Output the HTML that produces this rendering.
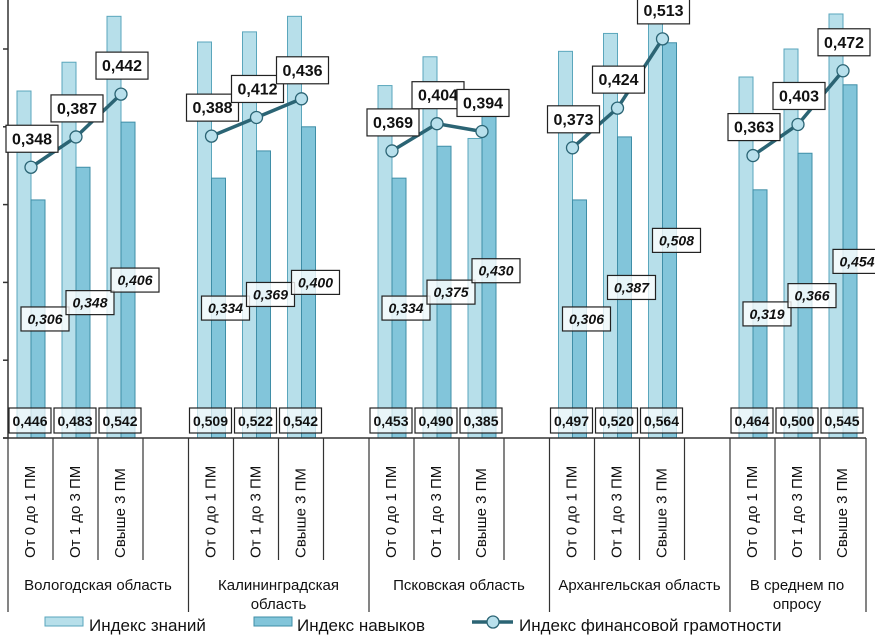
<!DOCTYPE html>
<html><head><meta charset="utf-8"><style>
body{margin:0;background:#fff;}
svg{display:block;font-family:"Liberation Sans",sans-serif;}
</style></head><body>
<svg id="chart" width="875" height="635" viewBox="0 0 875 635"></svg>
<script>
const regions=["Вологодская область","Калининградская|область","Псковская область","Архангельская область","В среднем по|опросу"];
const subcats=["От 0 до 1 ПМ","От 1 до 3 ПМ","Свыше 3 ПМ"];
const knowledge=[[0.446,0.483,0.542],[0.509,0.522,0.542],[0.453,0.490,0.385],[0.497,0.520,0.564],[0.464,0.500,0.545]];
const skills=[[0.306,0.348,0.406],[0.334,0.369,0.400],[0.334,0.375,0.430],[0.306,0.387,0.508],[0.319,0.366,0.454]];
const literacy=[[0.348,0.387,0.442],[0.388,0.412,0.436],[0.369,0.404,0.394],[0.373,0.424,0.513],[0.363,0.403,0.472]];
const yTicks=[0,0.1,0.2,0.3,0.4,0.5];

const NS="http://www.w3.org/2000/svg";
const svg=document.getElementById('chart');
const base=438, scale=778;
function y(v){return base-v*scale;}
function gx(g){return 8+g*180.5;}
function sx(g,i){return gx(g)+i*45;}
function fmt(v){return v.toFixed(3).replace('.',',');}
function mk(tag,attrs,parent){const e=document.createElementNS(NS,tag);for(const k in attrs)e.setAttribute(k,attrs[k]);(parent||svg).appendChild(e);return e;}
function txt(s,attrs,parent){const e=mk('text',attrs,parent);e.textContent=s;return e;}

const ax=mk('g',{});


mk('line',{x1:8,y1:0,x2:8,y2:base,stroke:'#333','stroke-width':1.5},ax);
yTicks.forEach(t=>{const l=mk('line',{x1:3,y1:y(t),x2:8,y2:y(t),stroke:'#333','stroke-width':1.5},ax);
});

const bars=mk('g',{});


knowledge.forEach((arr,g)=>arr.forEach((v,i)=>{
  const x=sx(g,i)+9;
  const r=mk('rect',{x:x,y:y(v),width:14,height:base-y(v),fill:'#b7dfea',stroke:'#5aa6bc','stroke-width':1},bars);
  
  
  const s=skills[g][i];
  const r2=mk('rect',{x:x+14,y:y(s),width:14,height:base-y(s),fill:'#82c5da',stroke:'#3f8ea7','stroke-width':1},bars);
  
  
}));

knowledge.forEach((arr,g)=>arr.forEach((v,i)=>{
  const cx=sx(g,i)+22;
  const b=mk('g',{});
  
  
  mk('rect',{x:cx-21,y:408,width:42,height:25,fill:'rgba(255,255,255,0.7)',stroke:'#222','stroke-width':1.2},b);
  txt(fmt(v),{x:cx,y:426,'text-anchor':'middle','font-size':14,'font-weight':'bold',fill:'#111'},b);
}));

skills.forEach((arr,g)=>arr.forEach((v,i)=>{
  const cx=sx(g,i)+37, cy=y(v/2);
  const b=mk('g',{});
  
  
  mk('rect',{x:cx-24,y:cy-12,width:48,height:24,fill:'rgba(255,255,255,0.8)',stroke:'#222','stroke-width':1.2},b);
  txt(fmt(v),{x:cx,y:cy+5,'text-anchor':'middle','font-size':14,'font-weight':'bold','font-style':'italic',fill:'#111'},b);
}));

literacy.forEach((arr,g)=>{
  const pts=arr.map((v,i)=>(sx(g,i)+23)+','+y(v)).join(' ');
  const pl=mk('polyline',{points:pts,fill:'none',stroke:'#2b6474','stroke-width':3.5});
  
  
});
literacy.forEach((arr,g)=>arr.forEach((v,i)=>{
  const c=mk('circle',{cx:sx(g,i)+23,cy:y(v),r:6,fill:'#b8e0ec',stroke:'#2b6474','stroke-width':1.3});
  
  
}));
literacy.forEach((arr,g)=>arr.forEach((v,i)=>{
  const cx=sx(g,i)+24, cy=y(v)-29;
  const b=mk('g',{});
  
  
  mk('rect',{x:cx-26,y:cy-13,width:52,height:27,fill:'#fff',stroke:'#222','stroke-width':1.2},b);
  txt(fmt(v),{x:cx,y:cy+6,'text-anchor':'middle','font-size':16,'font-weight':'bold',fill:'#111'},b);
}));

const xa=mk('g',{});


mk('line',{x1:3,y1:base,x2:866,y2:base,stroke:'#333','stroke-width':1.5},xa);
regions.forEach((r,g)=>{
  const nslots=g===regions.length-1?3:4;
  mk('line',{x1:gx(g),y1:base,x2:gx(g),y2:612,stroke:'#333','stroke-width':1.2},xa);
  for(let i=1;i<nslots;i++)mk('line',{x1:sx(g,i),y1:base,x2:sx(g,i),y2:560,stroke:'#333','stroke-width':1.2},xa);
  subcats.forEach((s,i)=>{
    const cx=sx(g,i)+27;
    const t=txt(s,{x:0,y:0,transform:`translate(${cx},558) rotate(-90)`,'font-size':15,fill:'#111'},xa);
    
    
  });
  const lines=r.split('|');
  const mid=gx(g)+(g===regions.length-1?67:90);
  lines.forEach((ln,k)=>{
    const t=txt(ln,{x:mid,y:590+k*19,'text-anchor':'middle','font-size':15,fill:'#111'},xa);
    
    
  });
});
mk('line',{x1:866,y1:base,x2:866,y2:612,stroke:'#333','stroke-width':1.2},xa);

const lg=mk('g',{});


const l1=mk('g',{},lg);


mk('rect',{x:45,y:617,width:38,height:9,fill:'#b7dfea',stroke:'#5aa6bc'},l1);
txt('Индекс знаний',{x:89,y:631,'font-size':17,fill:'#111'},l1);
const l2=mk('g',{},lg);


mk('rect',{x:254,y:617,width:38,height:9,fill:'#82c5da',stroke:'#3f8ea7'},l2);
txt('Индекс навыков',{x:297,y:631,'font-size':17,fill:'#111'},l2);
const l3=mk('g',{},lg);


mk('line',{x1:472,y1:622,x2:513,y2:622,stroke:'#2b6474','stroke-width':3.5},l3);
mk('circle',{cx:493,cy:622,r:6,fill:'#b8e0ec',stroke:'#2b6474','stroke-width':1.3},l3);
txt('Индекс финансовой  грамотности',{x:519,y:631,'font-size':17,fill:'#111'},l3);
</script>
</body></html>
